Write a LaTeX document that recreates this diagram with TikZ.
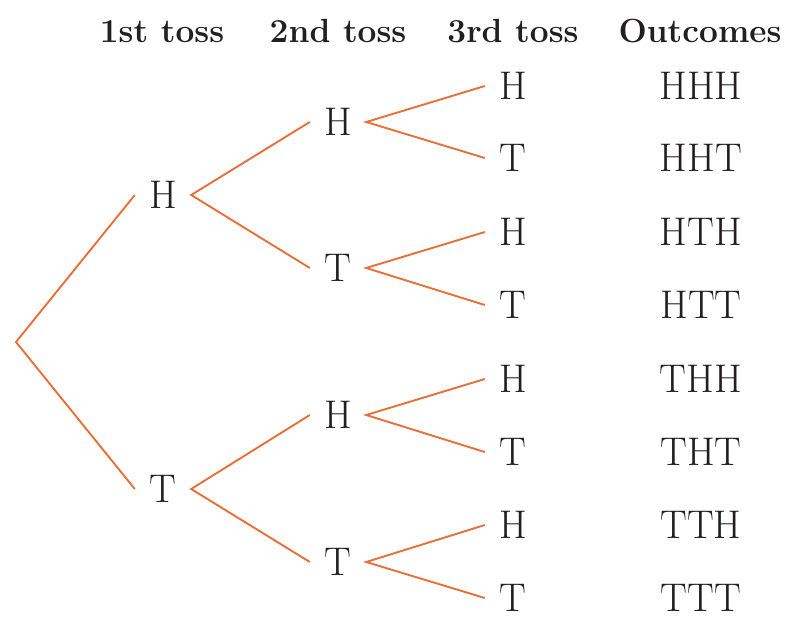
\documentclass[tikz,border=0pt]{standalone}
\usepackage{xcolor}
\definecolor{branch}{RGB}{232,112,56}
\definecolor{ink}{RGB}{35,31,32}
\begin{document}
\begin{tikzpicture}[x=1pt,y=-1pt,
  every node/.style={text=ink},
  head/.style={font=\fontsize{33.5}{40}\selectfont\bfseries, anchor=base},
  toss/.style={font=\fontsize{40}{48}\selectfont, inner sep=0pt, minimum width=56pt, text height=27pt, text depth=0pt},
  outcome/.style={font=\fontsize{40}{48}\selectfont, inner sep=0pt, text height=27pt, text depth=0pt},
  edge/.style={draw=branch, line width=1.9pt}]
\useasboundingbox (0,0) rectangle (790,616);

% column headings
\node[head] (h1) at (162,42) {1st toss};
\node[head] (h2) at (338,42) {2nd toss};
\node[head] (h3) at (513,42) {3rd toss};
\node[head] (h4) at (700,42) {Outcomes};

% root of the tree
\coordinate (r) at (16,342);

% first toss
\node[toss] (a1) at (163,195) {H};
\node[toss] (a2) at (163,489) {T};

% second toss
\node[toss] (b1) at (338,122) {H};
\node[toss] (b2) at (338,268) {T};
\node[toss] (b3) at (338,415) {H};
\node[toss] (b4) at (338,562) {T};

% third toss
\node[toss] (c1) at (513,86) {H};
\node[toss] (c2) at (513,158) {T};
\node[toss] (c3) at (513,232) {H};
\node[toss] (c4) at (513,305) {T};
\node[toss] (c5) at (513,379) {H};
\node[toss] (c6) at (513,452) {T};
\node[toss] (c7) at (513,525) {H};
\node[toss] (c8) at (513,598) {T};

% outcomes
\node[outcome] (o1) at (701,86) {HHH};
\node[outcome] (o2) at (701,158) {HHT};
\node[outcome] (o3) at (701,232) {HTH};
\node[outcome] (o4) at (701,305) {HTT};
\node[outcome] (o5) at (701,379) {THH};
\node[outcome] (o6) at (701,452) {THT};
\node[outcome] (o7) at (701,525) {TTH};
\node[outcome] (o8) at (701,598) {TTT};

% branches
\draw[edge] (a1.west) -- (r) -- (a2.west);
\draw[edge] (b1.west) -- (a1.east) -- (b2.west);
\draw[edge] (b3.west) -- (a2.east) -- (b4.west);
\draw[edge] (c1.west) -- (b1.east) -- (c2.west);
\draw[edge] (c3.west) -- (b2.east) -- (c4.west);
\draw[edge] (c5.west) -- (b3.east) -- (c6.west);
\draw[edge] (c7.west) -- (b4.east) -- (c8.west);
\end{tikzpicture}
\end{document}
